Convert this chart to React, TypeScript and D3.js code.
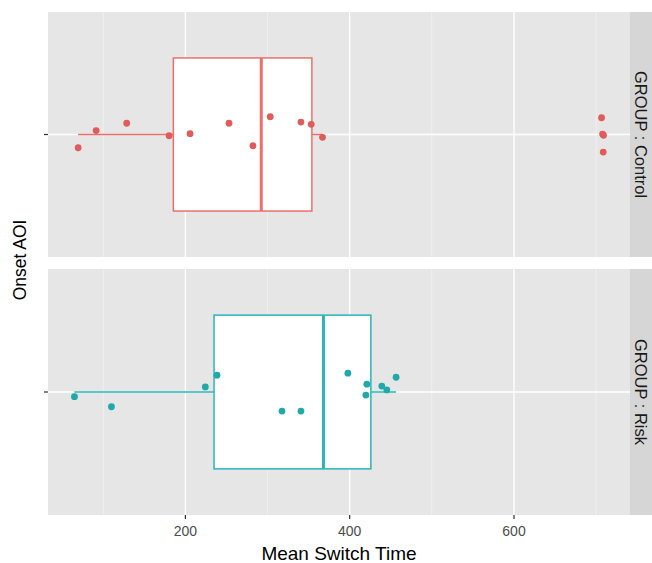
import React from "react";
import * as d3 from "d3";

const groups = ["Control", "Risk"];
const stripLabels = ["GROUP : Control", "GROUP : Risk"];

// Observed (jittered) points: switch time and vertical jitter in band units (positive = up)
const controlValues = [69.5, 91.4, 128.6, 180.2, 205.7, 253.1, 282.3, 303.3, 340.7, 353.2, 366.9, 706.6, 707.8, 709.0, 708.6];
const controlJitter = [-0.065, 0.019, 0.055, -0.006, 0.004, 0.055, -0.055, 0.087, 0.061, 0.05, -0.014, 0.082, 0.002, -0.004, -0.086];
const riskValues = [65.0, 110.0, 224.3, 238.5, 317.6, 340.7, 397.8, 420.9, 419.7, 439.1, 445.2, 456.5];
const riskJitter = [-0.023, -0.072, 0.025, 0.082, -0.093, -0.093, 0.092, 0.038, -0.015, 0.029, 0.01, 0.072];

// Box statistics: [lower whisker, q1, median, q3, upper whisker]
const controlBox = [69.5, 185.4, 292.4, 354.0, 366.9];
const riskBox = [65.0, 234.9, 368.1, 425.8, 456.5];

const xTicks = [200, 400, 600];
const xMinorTicks = [100, 300, 500, 700];

const boxColors = ["#EE6F6A", "#2BB5B6"];
const pointColors = ["#E05C5B", "#21A9AA"];

const W = 652;
const H = 563;
const panelLeft = 48;
const panelRight = 630;
const panels = [
  { top: 12, bottom: 257 },
  { top: 269, bottom: 515 },
];

export default function App() {
  const allVals = [...controlValues, ...riskValues];
  const [mn, mx] = d3.extent(allVals) as [number, number];
  const pad = (mx - mn) * 0.05;
  const x = d3.scaleLinear().domain([mn - pad, mx + pad]).range([panelLeft, panelRight]);

  const series = [
    { values: controlValues, jitter: controlJitter, box: controlBox },
    { values: riskValues, jitter: riskJitter, box: riskBox },
  ];

  const font = "'Liberation Sans', Arial, sans-serif";

  return (
    <svg width={W} height={H} style={{ position: "absolute", left: 0, top: 0, background: "#fff" }} fontFamily={font}>
      {groups.map((g, i) => {
        const p = panels[i];
        const y = d3.scaleLinear().domain([0.4, 1.6]).range([p.bottom, p.top]);
        const s = series[i];
        const [lo, q1, med, q3, hi] = s.box;
        const halfW = 0.375;
        const cy = y(1);
        return (
          <g key={g}>
            <rect x={panelLeft} y={p.top} width={panelRight - panelLeft} height={p.bottom - p.top} fill="#E6E6E6" />
            {xMinorTicks.map((t) => (
              <line key={"m" + t} x1={x(t)} x2={x(t)} y1={p.top} y2={p.bottom} stroke="#F4F4F4" strokeWidth={0.7} />
            ))}
            {xTicks.map((t) => (
              <line key={"M" + t} x1={x(t)} x2={x(t)} y1={p.top} y2={p.bottom} stroke="#fff" strokeWidth={1.4} />
            ))}
            <line x1={panelLeft} x2={panelRight} y1={cy} y2={cy} stroke="#fff" strokeWidth={1.4} />
            {/* y tick */}
            <line x1={panelLeft - 4} x2={panelLeft} y1={cy} y2={cy} stroke="#333" strokeWidth={1.2} />
            {/* whiskers */}
            <line x1={x(lo)} x2={x(q1)} y1={cy} y2={cy} stroke={boxColors[i]} strokeWidth={1.5} />
            <line x1={x(q3)} x2={x(hi)} y1={cy} y2={cy} stroke={boxColors[i]} strokeWidth={1.5} />
            {/* box */}
            <rect
              x={x(q1)}
              y={y(1 + halfW)}
              width={x(q3) - x(q1)}
              height={y(1 - halfW) - y(1 + halfW)}
              fill="#fff"
              stroke={boxColors[i]}
              strokeWidth={1.5}
            />
            <line x1={x(med)} x2={x(med)} y1={y(1 + halfW)} y2={y(1 - halfW)} stroke={boxColors[i]} strokeWidth={3} />
            {/* points */}
            {s.values.map((v, k) => (
              <circle key={k} cx={x(v)} cy={y(1 + s.jitter[k])} r={3.4} fill={pointColors[i]} />
            ))}
            {/* strip */}
            <rect x={panelRight} y={p.top} width={W - panelRight} height={p.bottom - p.top} fill="#D6D6D6" />
            <text
              transform={`translate(${641},${(p.top + p.bottom) / 2}) rotate(90)`}
              textAnchor="middle"
              dominantBaseline="central"
              fontSize={16.5}
              fill="#1A1A1A"
            >
              {stripLabels[i]}
            </text>
          </g>
        );
      })}
      {/* x axis */}
      {xTicks.map((t) => (
        <g key={t}>
          <line x1={x(t)} x2={x(t)} y1={515} y2={519} stroke="#333" strokeWidth={1.2} />
          <text x={x(t)} y={536} textAnchor="middle" fontSize={14} fill="#4D4D4D">
            {t}
          </text>
        </g>
      ))}
      <text x={(panelLeft + panelRight) / 2} y={560} textAnchor="middle" fontSize={19} fill="#000">
        Mean Switch Time
      </text>
      <text
        transform={`translate(${26},${260}) rotate(-90)`}
        textAnchor="middle"
        fontSize={17.5}
        fill="#000"
      >
        Onset AOI
      </text>
    </svg>
  );
}
